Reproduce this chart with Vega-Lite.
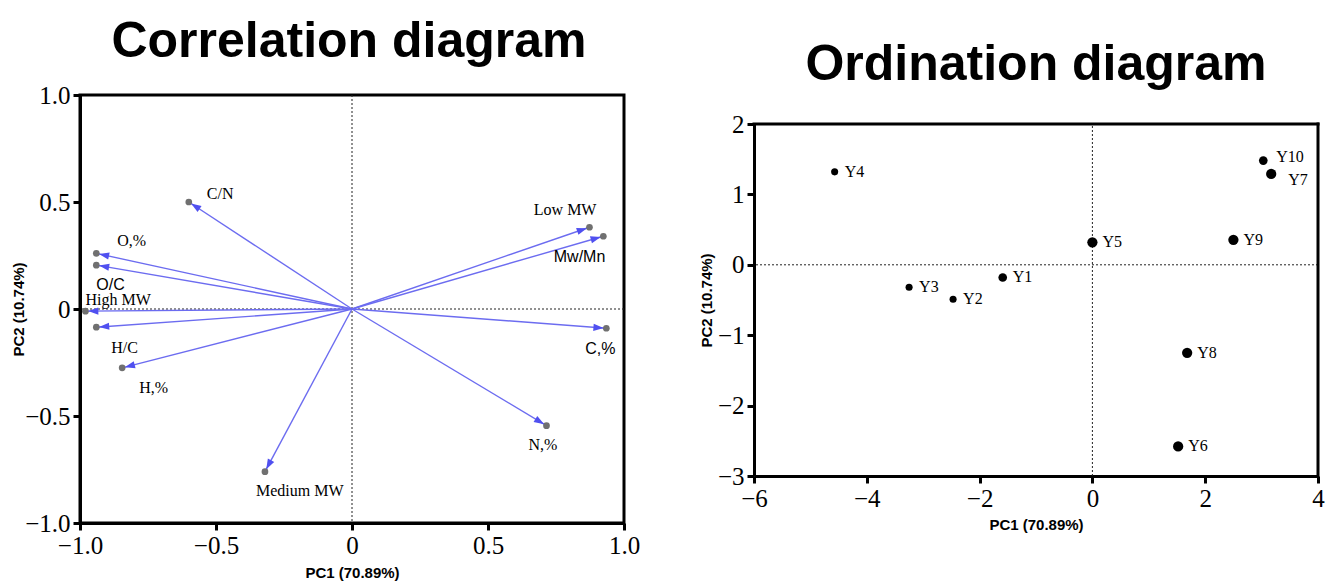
{
  "$schema": "https://vega.github.io/schema/vega-lite/v6.json",
  "padding": {"left": 10, "top": 15, "right": 0, "bottom": 0},
  "spacing": 57,
  "background": "white",
  "config": {
    "view": {"stroke": "black", "strokeWidth": 3},
    "axis": {"grid": false, "domainColor": "black", "domainWidth": 3, "tickColor": "black", "tickWidth": 3, "tickSize": 7, "labelFont": "Liberation Serif", "labelFontSize": 25, "labelColor": "black", "labelPadding": 3, "labelFlush": false, "labelOverlap": false, "titleFont": "Liberation Sans", "titleFontSize": 15, "titleFontWeight": "bold", "titleColor": "black"},
    "title": {"font": "Liberation Sans", "fontSize": 50, "fontWeight": "bold", "color": "black", "anchor": "middle"}
  },
  "hconcat": [
    {
      "width": 544,
      "height": 428,
      "title": {"text": "Correlation diagram", "offset": 16, "dx": -3},
      "data": {"values": [
        {"var": "C/N", "pc1": -0.60, "pc2": 0.50},
        {"var": "O,%", "pc1": -0.94, "pc2": 0.26},
        {"var": "O/C", "pc1": -0.94, "pc2": 0.205},
        {"var": "High MW", "pc1": -0.98, "pc2": -0.01},
        {"var": "H/C", "pc1": -0.94, "pc2": -0.085},
        {"var": "H,%", "pc1": -0.845, "pc2": -0.275},
        {"var": "Medium MW", "pc1": -0.32, "pc2": -0.76},
        {"var": "N,%", "pc1": 0.715, "pc2": -0.545},
        {"var": "C,%", "pc1": 0.935, "pc2": -0.09},
        {"var": "Low MW", "pc1": 0.873, "pc2": 0.382},
        {"var": "Mw/Mn", "pc1": 0.924, "pc2": 0.34}
      ]},
      "layer": [
        {"data": {"values": [{}]}, "mark": {"type": "rule", "strokeDash": [2, 2], "color": "#222", "strokeWidth": 1}, "encoding": {"y": {"datum": 0, "type": "quantitative"}}},
        {"data": {"values": [{}]}, "mark": {"type": "rule", "strokeDash": [2, 2], "color": "#222", "strokeWidth": 1}, "encoding": {"x": {"datum": 0, "type": "quantitative"}}},
        {"mark": {"type": "rule", "color": "#6c6cf0", "strokeWidth": 1.4}, "encoding": {"x": {"field": "pc1", "type": "quantitative"}, "y": {"field": "pc2", "type": "quantitative"}, "x2": {"datum": 0}, "y2": {"datum": 0}}},
        {"mark": {"type": "point", "filled": true, "shape": "circle", "size": 45, "color": "#707070", "opacity": 1},
         "encoding": {
           "x": {"field": "pc1", "type": "quantitative", "scale": {"domain": [-1, 1], "nice": false, "zero": false}, "axis": {"title": "PC1 (70.89%)", "values": [-1, -0.5, 0, 0.5, 1], "labelExpr": "datum.value == 0 ? '0' : format(datum.value, '.1f')", "titlePadding": 7}},
           "y": {"field": "pc2", "type": "quantitative", "scale": {"domain": [-1, 1], "nice": false, "zero": false}, "axis": {"title": "PC2 (10.74%)", "values": [-1, -0.5, 0, 0.5, 1], "labelExpr": "datum.value == 0 ? '0' : format(datum.value, '.1f')", "titlePadding": -2}}
         }},
        {"transform": [{"calculate": "atan2(datum.pc1*272, datum.pc2*214)*180/PI", "as": "ang"}],
         "mark": {"type": "point", "filled": true, "shape": "M0,0.9L-1.2,4.3L1.2,4.3Z", "size": 36, "color": "#5050f0", "opacity": 1},
         "encoding": {"x": {"field": "pc1", "type": "quantitative"}, "y": {"field": "pc2", "type": "quantitative"}, "angle": {"field": "ang", "type": "quantitative", "scale": null}}},
        {"transform": [{"filter": "datum.var === 'C/N'"}], "mark": {"type": "text", "font": "Liberation Serif", "fontSize": 16, "align": "left", "baseline": "middle", "dx": 18, "dy": -8}, "encoding": {"x": {"field": "pc1", "type": "quantitative"}, "y": {"field": "pc2", "type": "quantitative"}, "text": {"field": "var"}}},
        {"transform": [{"filter": "datum.var === 'O,%'"}], "mark": {"type": "text", "font": "Liberation Serif", "fontSize": 16, "align": "left", "baseline": "middle", "dx": 21, "dy": -12}, "encoding": {"x": {"field": "pc1", "type": "quantitative"}, "y": {"field": "pc2", "type": "quantitative"}, "text": {"field": "var"}}},
        {"transform": [{"filter": "datum.var === 'O/C'"}], "mark": {"type": "text", "font": "Liberation Sans", "fontSize": 16, "align": "left", "baseline": "middle", "dx": 0, "dy": 20}, "encoding": {"x": {"field": "pc1", "type": "quantitative"}, "y": {"field": "pc2", "type": "quantitative"}, "text": {"field": "var"}}},
        {"transform": [{"filter": "datum.var === 'High MW'"}], "mark": {"type": "text", "font": "Liberation Serif", "fontSize": 16, "align": "left", "baseline": "middle", "dx": 0, "dy": -11}, "encoding": {"x": {"field": "pc1", "type": "quantitative"}, "y": {"field": "pc2", "type": "quantitative"}, "text": {"field": "var"}}},
        {"transform": [{"filter": "datum.var === 'H/C'"}], "mark": {"type": "text", "font": "Liberation Serif", "fontSize": 16, "align": "left", "baseline": "middle", "dx": 15, "dy": 21}, "encoding": {"x": {"field": "pc1", "type": "quantitative"}, "y": {"field": "pc2", "type": "quantitative"}, "text": {"field": "var"}}},
        {"transform": [{"filter": "datum.var === 'H,%'"}], "mark": {"type": "text", "font": "Liberation Serif", "fontSize": 16, "align": "left", "baseline": "middle", "dx": 17, "dy": 20}, "encoding": {"x": {"field": "pc1", "type": "quantitative"}, "y": {"field": "pc2", "type": "quantitative"}, "text": {"field": "var"}}},
        {"transform": [{"filter": "datum.var === 'Medium MW'"}], "mark": {"type": "text", "font": "Liberation Serif", "fontSize": 16, "align": "left", "baseline": "middle", "dx": -9, "dy": 19}, "encoding": {"x": {"field": "pc1", "type": "quantitative"}, "y": {"field": "pc2", "type": "quantitative"}, "text": {"field": "var"}}},
        {"transform": [{"filter": "datum.var === 'N,%'"}], "mark": {"type": "text", "font": "Liberation Serif", "fontSize": 16, "align": "left", "baseline": "middle", "dx": -18, "dy": 19}, "encoding": {"x": {"field": "pc1", "type": "quantitative"}, "y": {"field": "pc2", "type": "quantitative"}, "text": {"field": "var"}}},
        {"transform": [{"filter": "datum.var === 'C,%'"}], "mark": {"type": "text", "font": "Liberation Sans", "fontSize": 16, "align": "left", "baseline": "middle", "dx": -21, "dy": 21}, "encoding": {"x": {"field": "pc1", "type": "quantitative"}, "y": {"field": "pc2", "type": "quantitative"}, "text": {"field": "var"}}},
        {"transform": [{"filter": "datum.var === 'Low MW'"}], "mark": {"type": "text", "font": "Liberation Serif", "fontSize": 16, "align": "right", "baseline": "middle", "dx": 7, "dy": -17}, "encoding": {"x": {"field": "pc1", "type": "quantitative"}, "y": {"field": "pc2", "type": "quantitative"}, "text": {"field": "var"}}},
        {"transform": [{"filter": "datum.var === 'Mw/Mn'"}], "mark": {"type": "text", "font": "Liberation Sans", "fontSize": 16, "align": "right", "baseline": "middle", "dx": 2, "dy": 21}, "encoding": {"x": {"field": "pc1", "type": "quantitative"}, "y": {"field": "pc2", "type": "quantitative"}, "text": {"field": "var"}}}
      ]
    },
    {
      "width": 564,
      "height": 381,
      "view": {"stroke": null},
      "title": {"text": "Ordination diagram", "offset": 5, "dx": 0},
      "data": {"values": [
        {"sample": "Y1", "pc1": -1.59, "pc2": -0.18},
        {"sample": "Y2", "pc1": -2.47, "pc2": -0.49},
        {"sample": "Y3", "pc1": -3.25, "pc2": -0.32},
        {"sample": "Y4", "pc1": -4.57, "pc2": 1.32},
        {"sample": "Y5", "pc1": 0.0, "pc2": 0.32},
        {"sample": "Y6", "pc1": 1.52, "pc2": -2.58},
        {"sample": "Y7", "pc1": 3.17, "pc2": 1.29},
        {"sample": "Y8", "pc1": 1.68, "pc2": -1.25},
        {"sample": "Y9", "pc1": 2.5, "pc2": 0.355},
        {"sample": "Y10", "pc1": 3.03, "pc2": 1.48}
      ]},
      "layer": [
        {"data": {"values": [{}]}, "mark": {"type": "rule", "strokeDash": [2, 2], "color": "#222", "strokeWidth": 1}, "encoding": {"y": {"datum": 0, "type": "quantitative"}}},
        {"data": {"values": [{}]}, "mark": {"type": "rule", "strokeDash": [2, 2], "color": "#222", "strokeWidth": 1}, "encoding": {"x": {"datum": 0, "type": "quantitative"}, "y": {"datum": -3, "type": "quantitative"}, "y2": {"datum": 2}}},
        {"data": {"values": [{}]}, "mark": {"type": "rule", "color": "black", "strokeWidth": 3, "strokeCap": "square"}, "encoding": {"y": {"datum": 2, "type": "quantitative"}}},
        {"data": {"values": [{}]}, "mark": {"type": "rule", "color": "black", "strokeWidth": 3, "strokeCap": "square"}, "encoding": {"x": {"datum": 4, "type": "quantitative"}, "y": {"datum": -3, "type": "quantitative"}, "y2": {"datum": 2}}},
        {"transform": [{"filter": {"field": "sample", "oneOf": ["Y2", "Y3", "Y4"]}}],
         "mark": {"type": "point", "filled": true, "shape": "circle", "size": 50, "color": "black", "opacity": 1},
         "encoding": {
           "x": {"field": "pc1", "type": "quantitative", "scale": {"domain": [-6, 4], "nice": false, "zero": false}, "axis": {"title": "PC1 (70.89%)", "values": [-6, -4, -2, 0, 2, 4], "format": "d", "titlePadding": 6}},
           "y": {"field": "pc2", "type": "quantitative", "scale": {"domain": [-3, 2], "nice": false, "zero": false, "range": [381, 29]}, "axis": {"title": "PC2 (10.74%)", "values": [-3, -2, -1, 0, 1, 2], "format": "d", "titlePadding": 3}}
         }},
        {"transform": [{"filter": {"field": "sample", "oneOf": ["Y1", "Y10"]}}],
         "mark": {"type": "point", "filled": true, "shape": "circle", "size": 75, "color": "black", "opacity": 1},
         "encoding": {"x": {"field": "pc1", "type": "quantitative"}, "y": {"field": "pc2", "type": "quantitative"}}},
        {"transform": [{"filter": {"field": "sample", "oneOf": ["Y5", "Y6", "Y7", "Y8", "Y9"]}}],
         "mark": {"type": "point", "filled": true, "shape": "circle", "size": 105, "color": "black", "opacity": 1},
         "encoding": {"x": {"field": "pc1", "type": "quantitative"}, "y": {"field": "pc2", "type": "quantitative"}}},
        {"transform": [{"filter": {"not": {"field": "sample", "oneOf": ["Y7", "Y10"]}}}],
         "mark": {"type": "text", "font": "Liberation Serif", "fontSize": 16, "align": "left", "baseline": "middle", "dx": 10, "dy": 0},
         "encoding": {"x": {"field": "pc1", "type": "quantitative"}, "y": {"field": "pc2", "type": "quantitative"}, "text": {"field": "sample"}}},
        {"transform": [{"filter": "datum.sample === 'Y10'"}],
         "mark": {"type": "text", "font": "Liberation Serif", "fontSize": 16, "align": "left", "baseline": "middle", "dx": 13, "dy": -4},
         "encoding": {"x": {"field": "pc1", "type": "quantitative"}, "y": {"field": "pc2", "type": "quantitative"}, "text": {"field": "sample"}}},
        {"transform": [{"filter": "datum.sample === 'Y7'"}],
         "mark": {"type": "text", "font": "Liberation Serif", "fontSize": 16, "align": "left", "baseline": "middle", "dx": 17, "dy": 6},
         "encoding": {"x": {"field": "pc1", "type": "quantitative"}, "y": {"field": "pc2", "type": "quantitative"}, "text": {"field": "sample"}}}
      ]
    }
  ]
}
